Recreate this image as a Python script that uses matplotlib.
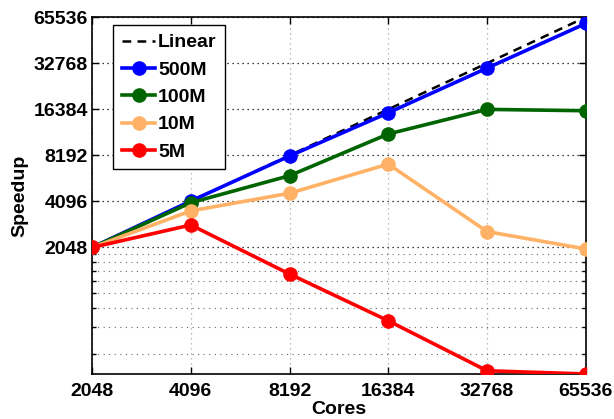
import numpy as np
import matplotlib
matplotlib.use("Agg")
import matplotlib.pyplot as plt
from matplotlib.ticker import FixedLocator, NullFormatter

plt.rcParams['font.family'] = ['Liberation Sans', 'DejaVu Sans']
plt.rcParams['font.weight'] = 'bold'

# --- data ---
cores = [2048, 4096, 8192, 16384, 32768, 65536]
linear = [2048, 4096, 8192, 16384, 32768, 65536]
s500M = [2048, 4120, 8110, 15540, 30450, 59600]
s100M = [2048, 4017, 6030, 11300, 16360, 16030]
s10M = [2048, 3550, 4630, 7180, 2600, 2002]
s5M = [2048, 2871, 1372, 679, 320, 305]
yticks = [2048, 4096, 8192, 16384, 32768, 65536]
yminor = [410, 614, 819, 1024, 1229, 1434, 1638, 1843]

fig = plt.figure(figsize=(6.14, 4.19), dpi=100)
ax = fig.add_axes([0.150, 0.107, 0.804, 0.852])
ax.set_xscale('log', base=2)
ax.set_yscale('log', base=2)

ax.plot(cores, linear, '--', color='k', lw=1.8, dashes=(3.5, 2.5), label='Linear', zorder=3)
series = [(s500M, '#0000ff', '500M'), (s100M, '#006400', '100M'),
          (s10M, '#ffb266', '10M'), (s5M, '#ff0000', '5M')]
for vals, col, lab in series:
    ax.plot(cores, vals, '-o', color=col, lw=2.6, ms=9.5, mec=col, label=lab, zorder=4)

ax.set_xlim(2048, 65536)
ax.set_ylim(304, 65536)
ax.xaxis.set_major_locator(FixedLocator(cores))
ax.set_xticklabels([str(c) for c in cores])
ax.xaxis.set_minor_locator(FixedLocator([]))
ax.yaxis.set_major_locator(FixedLocator(yticks))
ax.set_yticklabels([str(t) for t in yticks])
ax.yaxis.set_minor_locator(FixedLocator(yminor))
ax.yaxis.set_minor_formatter(NullFormatter())

ax.grid(axis='y', which='major', color='k', ls=(0, (1, 3)), lw=0.9)
ax.grid(axis='y', which='minor', color='0.4', ls=(0, (1, 4)), lw=0.8)
ax.grid(axis='x', which='major', color='0.65', ls=(0, (1, 3)), lw=0.9)

ax.tick_params(which='both', direction='in', top=True, right=True,
               labelsize=14, width=1)
ax.tick_params(axis='x', pad=6)
ax.tick_params(axis='y', pad=3)
ax.tick_params(which='major', length=5)
ax.tick_params(which='minor', length=3)
for sp in ax.spines.values():
    sp.set_linewidth(1.2)

ax.set_xlabel('Cores', fontsize=14, fontweight='bold', labelpad=1)
ax.set_ylabel('Speedup', fontsize=14, fontweight='bold', labelpad=4)

leg = ax.legend(loc='upper left', bbox_to_anchor=(0.043, 0.978), fontsize=14,
                fancybox=False, edgecolor='k', framealpha=1, handlelength=1.7,
                labelspacing=0.5, handletextpad=0.15, borderpad=0.45, borderaxespad=0)
leg.get_frame().set_linewidth(1.0)
for t in leg.get_texts():
    t.set_fontweight('bold')

fig.savefig('out.png', dpi=100)
